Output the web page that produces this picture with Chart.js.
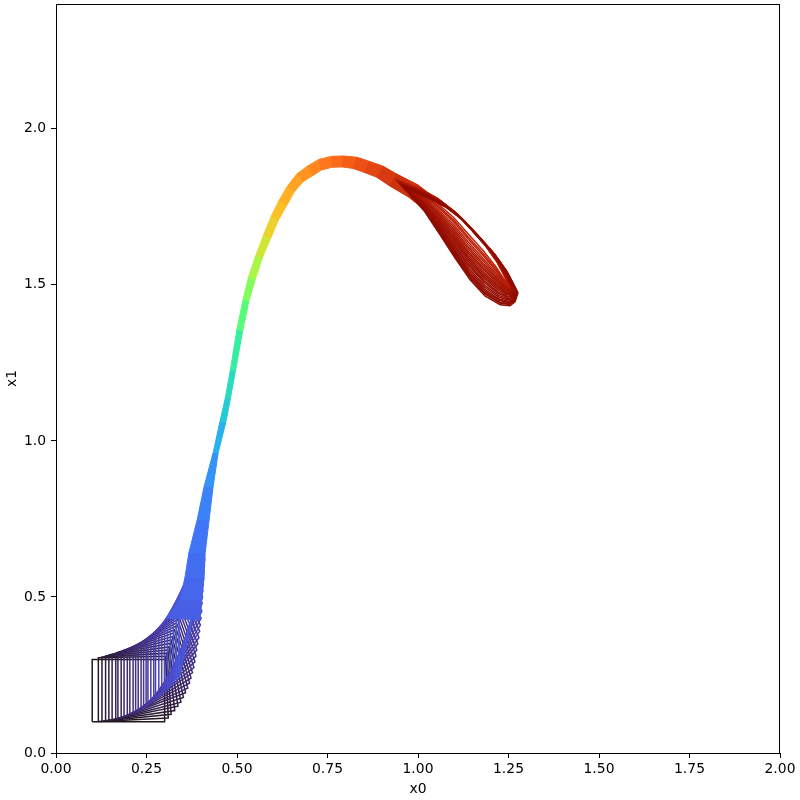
<!DOCTYPE html>
<html>
<head>
<meta charset="utf-8">
<script src="https://cdn.jsdelivr.net/npm/chart.js@4/dist/chart.umd.min.js"></script>
<style>
  html, body { margin: 0; background: #fff; }
</style>
</head>
<body>
<canvas id="myChart" width="800" height="800"></canvas>
<script>
// axis ticks
const xTicks = [0, 0.25, 0.5, 0.75, 1.0, 1.25, 1.5, 1.75, 2.0];
const yTicks = [0, 0.5, 1.0, 1.5, 2.0];

// early frames: the box corners
const boxLeftX = [0.100, 0.117, 0.127, 0.137, 0.146, 0.155, 0.165, 0.171, 0.180, 0.188, 0.197, 0.204, 0.213, 0.220, 0.227, 0.235, 0.242, 0.249, 0.254, 0.262, 0.270, 0.275, 0.284, 0.292, 0.300, 0.308, 0.316, 0.324, 0.332, 0.340];
const boxTopY = [0.300, 0.305, 0.308, 0.311, 0.314, 0.317, 0.320, 0.323, 0.326, 0.329, 0.332, 0.335, 0.338, 0.341, 0.345, 0.349, 0.353, 0.357, 0.361, 0.368, 0.376, 0.383, 0.394, 0.408, 0.420, 0.433, 0.446, 0.459, 0.472, 0.485];
const boxBottomY = [0.100, 0.101, 0.102, 0.103, 0.104, 0.106, 0.108, 0.110, 0.112, 0.115, 0.118, 0.121, 0.124, 0.128, 0.132, 0.136, 0.141, 0.146, 0.152, 0.158, 0.165, 0.172, 0.178, 0.185, 0.193, 0.201, 0.210, 0.220, 0.230, 0.240];
const boxRightX = [0.300, 0.310, 0.318, 0.328, 0.337, 0.345, 0.352, 0.358, 0.364, 0.369, 0.373, 0.377, 0.381, 0.384, 0.387, 0.389, 0.392, 0.395, 0.397, 0.399, 0.401, 0.403, 0.404, 0.405, 0.406, 0.407, 0.408, 0.409, 0.410, 0.411];
const boxRightY = [0.100, 0.112, 0.124, 0.136, 0.150, 0.163, 0.178, 0.193, 0.208, 0.224, 0.240, 0.257, 0.274, 0.292, 0.311, 0.330, 0.350, 0.370, 0.390, 0.410, 0.432, 0.455, 0.480, 0.500, 0.520, 0.540, 0.560, 0.580, 0.600, 0.620];
const boxCornerX = [0.300, 0.303, 0.306, 0.309, 0.312, 0.315, 0.318, 0.321, 0.324, 0.327, 0.330, 0.333, 0.336, 0.339, 0.342, 0.345, 0.348, 0.351, 0.354, 0.357, 0.361, 0.365, 0.372, 0.376, 0.380, 0.384, 0.388, 0.392, 0.396, 0.400];
const boxCornerY = [0.300, 0.310, 0.320, 0.330, 0.340, 0.351, 0.362, 0.373, 0.384, 0.395, 0.406, 0.417, 0.428, 0.439, 0.450, 0.461, 0.472, 0.483, 0.494, 0.505, 0.515, 0.525, 0.545, 0.565, 0.585, 0.605, 0.625, 0.645, 0.665, 0.685];
const boxTime = [0.000, 0.003, 0.006, 0.009, 0.012, 0.015, 0.018, 0.021, 0.024, 0.027, 0.030, 0.033, 0.036, 0.039, 0.042, 0.045, 0.048, 0.051, 0.054, 0.057, 0.060, 0.063, 0.068, 0.073, 0.078, 0.083, 0.088, 0.093, 0.098, 0.103];

// middle: the two edges of the swept band and its colour time
const bandUpperX = [0.304, 0.343, 0.356, 0.367, 0.390, 0.409, 0.434, 0.453, 0.468, 0.482, 0.500, 0.517, 0.532, 0.552, 0.573, 0.595, 0.616, 0.639, 0.666, 0.694, 0.726, 0.762, 0.795, 0.831, 0.865, 0.904, 0.940, 0.999, 1.047];
const bandUpperY = [0.433, 0.490, 0.561, 0.641, 0.747, 0.853, 0.962, 1.063, 1.139, 1.229, 1.358, 1.454, 1.526, 1.594, 1.659, 1.721, 1.770, 1.816, 1.856, 1.880, 1.902, 1.912, 1.913, 1.909, 1.896, 1.880, 1.856, 1.821, 1.779];
const bandLowerX = [0.398, 0.403, 0.409, 0.412, 0.423, 0.434, 0.448, 0.469, 0.482, 0.496, 0.516, 0.533, 0.551, 0.570, 0.593, 0.615, 0.638, 0.659, 0.682, 0.709, 0.733, 0.763, 0.791, 0.821, 0.853, 0.886, 0.922, 0.973, 1.019];
const bandLowerY = [0.426, 0.490, 0.561, 0.641, 0.747, 0.853, 0.962, 1.059, 1.137, 1.226, 1.354, 1.449, 1.519, 1.586, 1.649, 1.709, 1.756, 1.799, 1.830, 1.850, 1.868, 1.877, 1.878, 1.873, 1.860, 1.845, 1.817, 1.782, 1.740];
const bandTime = [0.105, 0.115, 0.125, 0.135, 0.15, 0.165, 0.20, 0.26, 0.29, 0.33, 0.38, 0.45, 0.50, 0.55, 0.60, 0.64, 0.67, 0.69, 0.71, 0.73, 0.75, 0.775, 0.79, 0.81, 0.825, 0.845, 0.86, 0.875, 0.89];

// late frames: closed loops. upper side and widest lower side (same start tip),
// then how wide and how far up-left each loop sits
const loopUpperX = [0.964, 1.033, 1.080, 1.130, 1.171, 1.213, 1.246, 1.265, 1.276];
const loopUpperY = [1.808, 1.776, 1.747, 1.702, 1.651, 1.596, 1.542, 1.500, 1.474];
const loopLowerX = [0.964, 1.019, 1.061, 1.102, 1.144, 1.185, 1.227, 1.254, 1.268];
const loopLowerY = [1.808, 1.734, 1.660, 1.587, 1.516, 1.465, 1.436, 1.433, 1.446];
const loopWidth = [0.15, 0.20, 0.25, 0.30, 0.35, 0.40, 0.44, 0.48, 0.52, 0.56, 0.60, 0.64, 0.68, 0.72, 0.76, 0.80, 0.84, 0.88, 0.91, 0.94, 0.97, 1.00];
const loopShiftX = [-0.028, -0.027, -0.025, -0.024, -0.023, -0.021, -0.020, -0.019, -0.017, -0.016, -0.015, -0.013, -0.012, -0.011, -0.009, -0.008, -0.007, -0.005, -0.004, -0.003, -0.001, 0];
const loopShiftY = [0.032, 0.030, 0.029, 0.027, 0.026, 0.024, 0.023, 0.021, 0.020, 0.018, 0.017, 0.015, 0.014, 0.012, 0.011, 0.009, 0.008, 0.006, 0.005, 0.003, 0.002, 0];
const loopTime = [0.890, 0.895, 0.900, 0.905, 0.910, 0.915, 0.921, 0.926, 0.931, 0.936, 0.941, 0.946, 0.952, 0.957, 0.962, 0.967, 0.972, 0.977, 0.983, 0.988, 0.994, 1.000];

// turbo colormap (polynomial fit)
function turbo(t) {
  t = Math.min(1, Math.max(0, t));
  const r = 0.13572138 + t * (4.6153926 + t * (-42.66032258 + t * (132.13108234 + t * (-152.94239396 + t * 59.28637943))));
  const g = 0.09140261 + t * (2.19418839 + t * (4.84296658 + t * (-14.18503333 + t * (4.27729857 + t * 2.82956604))));
  const b = 0.1066733 + t * (12.64194608 + t * (-60.58204836 + t * (110.36276771 + t * (-89.90310912 + t * 27.34824973))));
  const c = (v) => Math.round(255 * Math.min(1, Math.max(0, v)));
  return `rgb(${c(r)},${c(g)},${c(b)})`;
}

const datasets = [];

boxLeftX.forEach((xl, k) => {
  datasets.push({
    data: [
      { x: xl, y: boxBottomY[k] },
      { x: boxRightX[k], y: boxRightY[k] },
      { x: boxCornerX[k], y: boxCornerY[k] },
      { x: xl, y: boxTopY[k] },
      { x: xl, y: boxBottomY[k] },
    ],
    borderColor: turbo(boxTime[k]),
    borderWidth: 1.5,
    fill: false,
    order: -k,
  });
});

for (let i = 0; i < bandUpperX.length - 1; i++) {
  const col = turbo((bandTime[i] + bandTime[i + 1]) / 2);
  datasets.push({
    data: [
      { x: bandUpperX[i], y: bandUpperY[i] },
      { x: bandUpperX[i + 1], y: bandUpperY[i + 1] },
      { x: bandLowerX[i + 1], y: bandLowerY[i + 1] },
      { x: bandLowerX[i], y: bandLowerY[i] },
      { x: bandUpperX[i], y: bandUpperY[i] },
    ],
    borderColor: col,
    backgroundColor: col,
    borderWidth: 1,
    fill: "shape",
    order: -(100 + i),
  });
}

loopWidth.forEach((w, k) => {
  const dx = loopShiftX[k], dy = loopShiftY[k];
  const upper = loopUpperX.map((x, j) => ({ x: x + dx, y: loopUpperY[j] + dy }));
  const lower = loopLowerX.map((x, j) => ({
    x: loopUpperX[j] + w * (x - loopUpperX[j]) + dx,
    y: loopUpperY[j] + w * (loopLowerY[j] - loopUpperY[j]) + dy,
  }));
  datasets.push({
    data: upper.concat(lower.reverse()),
    borderColor: turbo(loopTime[k]),
    borderWidth: 1.5,
    fill: false,
    order: -(200 + k),
  });
});

// box around the plot area
const framePlugin = {
  id: "frame",
  afterDatasetsDraw(chart) {
    const { left, right, top, bottom } = chart.chartArea;
    const ctx = chart.ctx;
    ctx.save();
    ctx.strokeStyle = "#000";
    ctx.lineWidth = 1;
    ctx.strokeRect(left + 0.5, top + 0.5, right - left - 1, bottom - top);
    ctx.restore();
  },
};

const font = { family: "'DejaVu Sans', sans-serif", size: 13.9 };

new Chart(document.getElementById("myChart").getContext("2d"), {
  type: "line",
  data: { datasets },
  options: {
    responsive: false,
    animation: false,
    events: [],
    layout: { padding: { top: 4, right: 20, left: 0, bottom: 0 } },
    elements: { point: { radius: 0 }, line: { tension: 0 } },
    plugins: { legend: { display: false }, tooltip: { enabled: false } },
    scales: {
      x: {
        type: "linear",
        min: 0,
        max: 2,
        afterBuildTicks: (s) => { s.ticks = xTicks.map((v) => ({ value: v })); },
        afterFit: (s) => { s.height = 47; },
        ticks: { color: "#000", font, padding: 3, maxRotation: 0, callback: (v) => Number(v).toFixed(2) },
        grid: { drawOnChartArea: false, drawTicks: true, tickLength: 5, color: "#000" },
        border: { display: false },
        title: { display: true, text: "x0", color: "#000", font, padding: { top: 0, bottom: 2 } },
      },
      y: {
        type: "linear",
        min: 0,
        max: 2.4,
        afterBuildTicks: (s) => { s.ticks = yTicks.map((v) => ({ value: v })); },
        afterFit: (s) => { s.width = 56; s.paddingTop = 0; s.paddingBottom = 0; },
        ticks: { color: "#000", font, padding: 5, callback: (v) => Number(v).toFixed(1) },
        grid: { drawOnChartArea: false, drawTicks: true, tickLength: 5, color: "#000" },
        border: { display: false },
        title: { display: true, text: "x1", color: "#000", font, padding: { top: 4, bottom: 0 } },
      },
    },
  },
  plugins: [framePlugin],
});
</script>
</body>
</html>
